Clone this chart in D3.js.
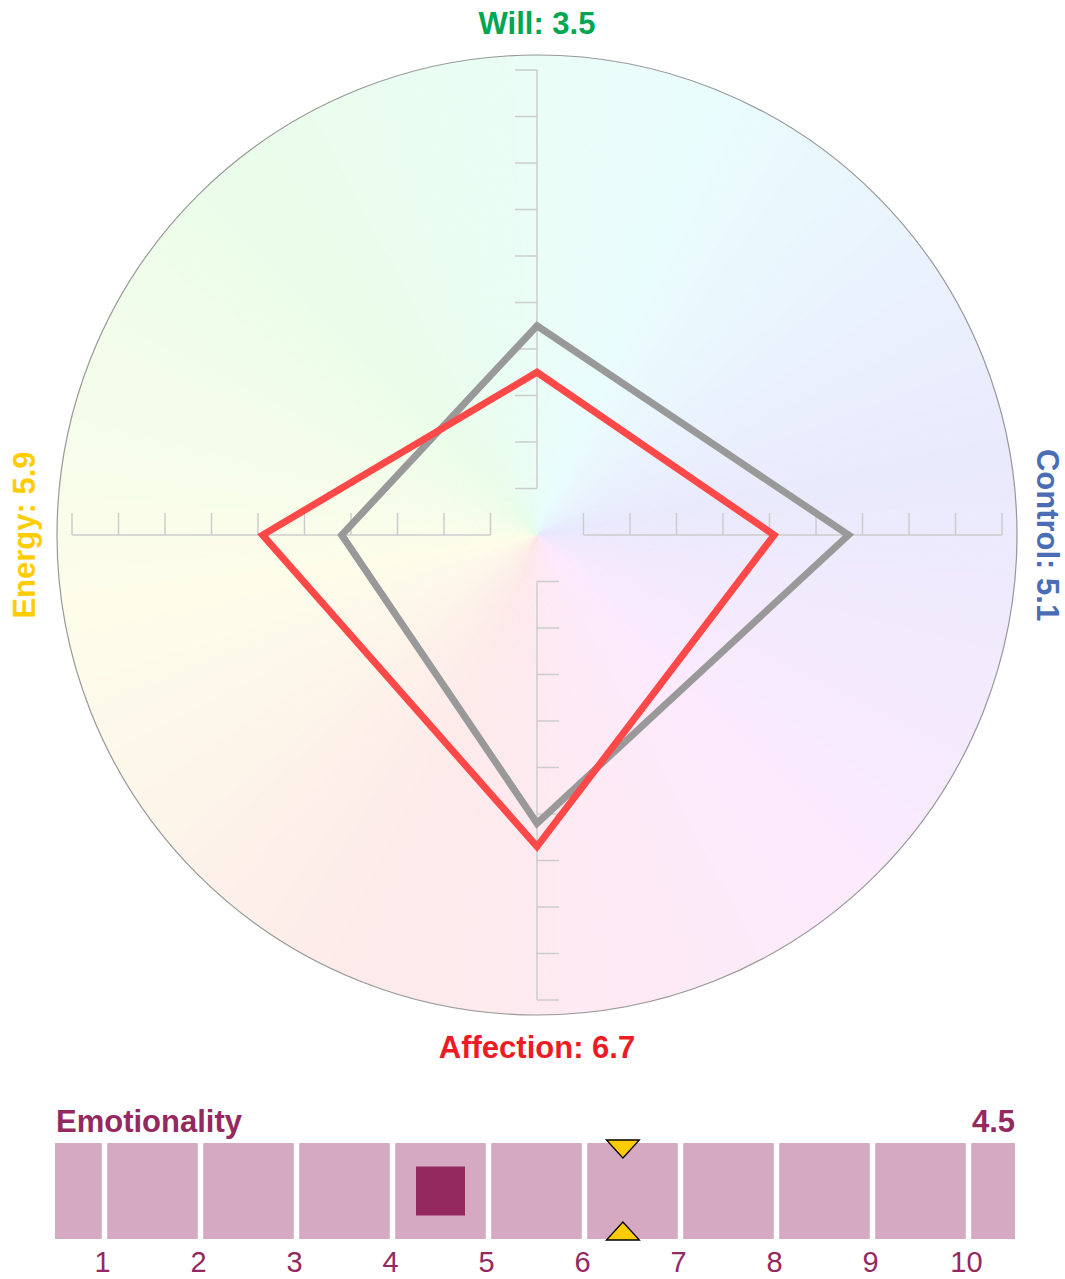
<!DOCTYPE html>
<html lang="en">
<head>
<meta charset="utf-8">
<script src="https://d3js.org/d3.v7.min.js"></script>
<style>
  body { margin: 0; background: #fff; }
  svg text { font-family: "Liberation Sans", Arial, sans-serif; }
</style>
</head>
<body>
<div id="chart"></div>
<script>
// radar axes (clockwise from top)
const axes = ['Will', 'Control', 'Affection', 'Energy'];
const axisColors = ['#00a651', '#4a6db5', '#ed1c24', '#ffcc00'];
const scores = [3.5, 5.1, 6.7, 5.9];        // red polygon / labels
const reference = [4.5, 6.7, 6.2, 4.2];     // grey polygon
const axisTicks = [1, 2, 3, 4, 5, 6, 7, 8, 9, 10];

// emotionality strip
const emoLabel = 'Emotionality';
const emoValue = 4.5;
const emoReference = 6.4;
const emoTicks = [1, 2, 3, 4, 5, 6, 7, 8, 9, 10];

const W = 1065, H = 1279;
const cx = 537, cy = 535, R = 480;

const svg = d3.select('#chart').append('svg')
    .attr('width', W).attr('height', H);

// background colour wheel
const bg = svg.append('g').attr('transform', `translate(${cx},${cy})`);
const nSlices = 360;
const arc = d3.arc().innerRadius(0).outerRadius(R);
d3.range(nSlices).forEach(i => {
    const a0 = i / nSlices * 2 * Math.PI;
    const a1 = (i + 1) / nSlices * 2 * Math.PI;
    const hue = 160 + i / nSlices * 360;
    const col = d3.hsl(hue % 360, 0.85, 0.955).formatHex();
    bg.append('path')
        .attr('d', arc({startAngle: a0, endAngle: a1}))
        .attr('fill', col)
        .attr('stroke', col)
        .attr('stroke-width', 0.6);
});
bg.append('circle').attr('r', R)
    .attr('fill', 'none').attr('stroke', '#999').attr('stroke-width', 1.2);

// radial scale
const r = d3.scaleLinear().domain([0, 10]).range([0, 465]);
const tickLen = 22;

const axisG = svg.append('g').attr('transform', `translate(${cx},${cy})`);
axes.forEach((name, i) => {
    const ang = i * Math.PI / 2;               // 0 = up, clockwise
    const dx = Math.sin(ang), dy = -Math.cos(ang);
    // tick direction: left for up, up for right/left, right for down
    const tdir = [[-1, 0], [0, -1], [1, 0], [0, -1]][i];
    axisG.append('line')
        .attr('x1', dx * r(1)).attr('y1', dy * r(1))
        .attr('x2', dx * r(10)).attr('y2', dy * r(10))
        .attr('stroke', '#ccc').attr('stroke-width', 1.5);
    axisTicks.forEach(t => {
        axisG.append('line')
            .attr('x1', dx * r(t)).attr('y1', dy * r(t))
            .attr('x2', dx * r(t) + tdir[0] * tickLen)
            .attr('y2', dy * r(t) + tdir[1] * tickLen)
            .attr('stroke', '#ccc').attr('stroke-width', 1.5);
    });
});

function polyPoints(vals) {
    return vals.map((v, i) => {
        const ang = i * Math.PI / 2;
        return [Math.sin(ang) * r(v), -Math.cos(ang) * r(v)];
    });
}
const line = d3.line().curve(d3.curveLinearClosed);
axisG.append('path')
    .attr('d', line(polyPoints(reference)))
    .attr('fill', 'none').attr('stroke', '#999').attr('stroke-width', 7)
    .attr('stroke-linejoin', 'miter');
axisG.append('path')
    .attr('d', line(polyPoints(scores)))
    .attr('fill', 'none').attr('stroke', '#ff4848').attr('stroke-width', 7)
    .attr('stroke-linejoin', 'miter');

// axis labels
const labelPos = [
    {x: cx, y: 34, rot: 0},
    {x: 1037, y: cy, rot: 90},
    {x: cx, y: 1058, rot: 0},
    {x: 35, y: cy, rot: -90}
];
axes.forEach((name, i) => {
    const p = labelPos[i];
    svg.append('text')
        .attr('transform', `translate(${p.x},${p.y}) rotate(${p.rot})`)
        .attr('text-anchor', 'middle')
        .attr('font-size', 31).attr('font-weight', 'bold')
        .attr('fill', axisColors[i])
        .text(`${name}: ${scores[i]}`);
});

// emotionality strip
const x = d3.scaleLinear().domain([0.5, 10.5]).range([56.5, 1016.5]);
const barL = 55, barR = 1015;
const barTop = 1143, barH = 96;
const emoColor = '#93295f';
const strip = svg.append('g');
const edges = [0.5].concat(emoTicks).concat([10.5]);
const gap = 5.5;
for (let k = 0; k < edges.length - 1; k++) {
    const a = k === 0 ? barL : x(edges[k]) + gap / 2;
    const b = k === edges.length - 2 ? barR : x(edges[k + 1]) - gap / 2;
    strip.append('rect')
        .attr('x', a).attr('y', barTop)
        .attr('width', b - a).attr('height', barH)
        .attr('fill', '#d4a9c1');
}
const sq = 49;
strip.append('rect')
    .attr('x', x(emoValue) - sq / 2).attr('y', barTop + barH / 2 - sq / 2)
    .attr('width', sq).attr('height', sq)
    .attr('fill', emoColor);

const tw = 33, th = 18;
const xr = x(emoReference);
strip.append('path')
    .attr('d', `M${xr - tw / 2},${barTop - 3} L${xr + tw / 2},${barTop - 3} L${xr},${barTop - 3 + th} Z`)
    .attr('fill', '#ffcc00').attr('stroke', '#000').attr('stroke-width', 1.3);
strip.append('path')
    .attr('d', `M${xr - tw / 2},${barTop + barH + 1} L${xr + tw / 2},${barTop + barH + 1} L${xr},${barTop + barH + 1 - th} Z`)
    .attr('fill', '#ffcc00').attr('stroke', '#000').attr('stroke-width', 1.3);

strip.append('text')
    .attr('x', 56).attr('y', 1132)
    .attr('font-size', 31).attr('font-weight', 'bold').attr('fill', emoColor)
    .text(emoLabel);
strip.append('text')
    .attr('x', 1015).attr('y', 1132).attr('text-anchor', 'end')
    .attr('font-size', 31).attr('font-weight', 'bold').attr('fill', emoColor)
    .text(emoValue);

emoTicks.forEach(t => {
    strip.append('text')
        .attr('x', x(t) - 2).attr('y', 1272)
        .attr('text-anchor', 'middle')
        .attr('font-size', 29).attr('fill', emoColor)
        .text(t);
});
</script>
</body>
</html>
